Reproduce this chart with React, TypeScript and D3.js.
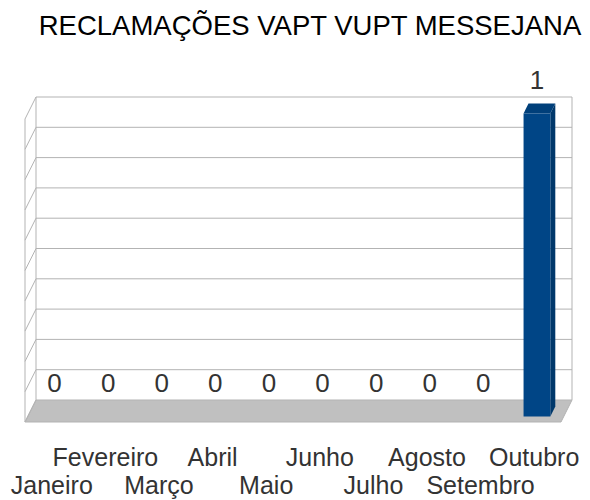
import { useRef, useEffect } from "react";
import { select, scaleBand, scaleLinear, range } from "d3";

const title = "RECLAMAÇÕES VAPT VUPT MESSEJANA";
const months = [
  "Janeiro",
  "Fevereiro",
  "Março",
  "Abril",
  "Maio",
  "Junho",
  "Julho",
  "Agosto",
  "Setembro",
  "Outubro",
];
const values = [0, 0, 0, 0, 0, 0, 0, 0, 0, 1];
const yTicks = range(0, 11).map((i) => i / 10);

// 3d depth vector (front -> back wall)
const DX = 11;
const DY = -22;
const FONT = "'Liberation Sans', Arial, sans-serif";

export default function App() {
  const svgRef = useRef<SVGSVGElement>(null);

  useEffect(() => {
    const svg = select(svgRef.current);
    svg.selectAll("*").remove();

    //// scales on the front plane ////
    const xScale = scaleBand<string>()
      .domain(months)
      .range([25, 561])
      .paddingInner(0.5)
      .paddingOuter(0.25);
    const yScale = scaleLinear().domain([0, 1]).range([422, 119]);
    const x0 = 25;
    const x1 = 561;

    // title
    svg
      .append("text")
      .attr("x", 310)
      .attr("y", 35)
      .attr("text-anchor", "middle")
      .attr("font-family", FONT)
      .attr("font-size", 27.5)
      .attr("fill", "#000")
      .text(title);

    const grid = svg.append("g").attr("stroke", "#b3b3b3").attr("fill", "none");

    // floor
    svg
      .insert("path", "g")
      .attr(
        "d",
        `M${x0},${yScale(0)}L${x1},${yScale(0)}L${x1 + DX},${yScale(0) + DY}L${x0 + DX},${yScale(0) + DY}Z`
      )
      .attr("fill", "#c0c0c0")
      .attr("stroke", "#b3b3b3");

    // back wall gridlines + side wall diagonals
    yTicks.forEach((t) => {
      const yb = yScale(t) + DY;
      if (t > 0) {
        grid
          .append("line")
          .attr("x1", x0 + DX)
          .attr("x2", x1 + DX)
          .attr("y1", yb)
          .attr("y2", yb);
      }
      grid
        .append("line")
        .attr("x1", x0 + DX)
        .attr("y1", yb)
        .attr("x2", x0)
        .attr("y2", yb - DY);
    });
    // wall verticals
    grid
      .append("line")
      .attr("x1", x0 + DX)
      .attr("x2", x0 + DX)
      .attr("y1", yScale(1) + DY)
      .attr("y2", yScale(0) + DY);
    grid
      .append("line")
      .attr("x1", x1 + DX)
      .attr("x2", x1 + DX)
      .attr("y1", yScale(1) + DY)
      .attr("y2", yScale(0) + DY);
    grid
      .append("line")
      .attr("x1", x0)
      .attr("x2", x0)
      .attr("y1", yScale(1))
      .attr("y2", yScale(0));

    //// bars ////
    const f1 = 0.25;
    const f2 = 0.7;
    const bars = svg
      .selectAll(".bar")
      .data(months.map((m, i) => ({ m, v: values[i] })).filter((d) => d.v > 0))
      .join("g")
      .attr("class", "bar");
    bars.each(function (d) {
      const g = select(this);
      const xl = (xScale(d.m) as number) + f1 * DX;
      const xr = xl + xScale.bandwidth();
      const yt = yScale(d.v) + f1 * DY;
      const yb = yScale(0) + f1 * DY;
      const ox = (f2 - f1) * DX;
      const oy = (f2 - f1) * DY;
      // side
      g.append("path")
        .attr("d", `M${xr},${yt}L${xr + ox},${yt + oy}L${xr + ox},${yb + oy}L${xr},${yb}Z`)
        .attr("fill", "#00386b");
      // top
      g.append("path")
        .attr("d", `M${xl},${yt}L${xl + ox},${yt + oy}L${xr + ox},${yt + oy}L${xr},${yt}Z`)
        .attr("fill", "#003f7a");
      // front
      g.append("rect")
        .attr("x", xl)
        .attr("y", yt)
        .attr("width", xScale.bandwidth())
        .attr("height", yb - yt)
        .attr("fill", "#004586");
    });

    //// value labels ////
    svg
      .selectAll(".val")
      .data(values)
      .join("text")
      .attr("class", "val")
      .attr("x", (v, i) => (xScale(months[i]) as number) + xScale.bandwidth() / 2 + f1 * DX)
      .attr("y", (v) => yScale(v) + f1 * DY - 25)
      .attr("text-anchor", "middle")
      .attr("font-family", FONT)
      .attr("font-size", 26)
      .attr("fill", "#333")
      .text((v) => String(v));

    //// category labels, staggered in two rows ////
    svg
      .selectAll(".cat")
      .data(months)
      .join("text")
      .attr("class", "cat")
      .attr("x", (m) => (xScale(m) as number) + xScale.bandwidth() / 2)
      .attr("y", (m, i) => (i % 2 === 0 ? 494 : 466))
      .attr("text-anchor", "middle")
      .attr("font-family", FONT)
      .attr("font-size", 25)
      .attr("fill", "#333")
      .text((m) => m);
  }, []);

  return (
    <svg
      ref={svgRef}
      width={590}
      height={500}
      style={{ position: "absolute", left: 0, top: 0, background: "#fff" }}
    />
  );
}
